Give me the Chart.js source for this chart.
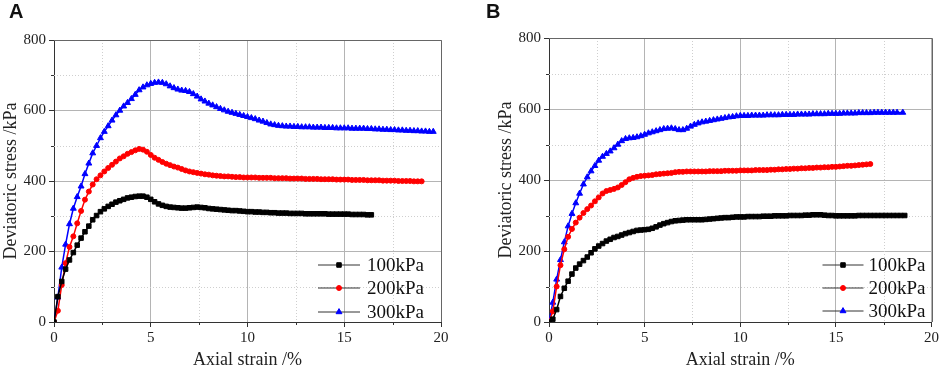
<!DOCTYPE html>
<html>
<head>
<meta charset="utf-8">
<script src="https://cdn.jsdelivr.net/npm/chart.js@4.4.1/dist/chart.umd.min.js"></script>
<style>
  body { margin: 0; background: #fff; }
  #wrap { position: relative; width: 941px; height: 372px; overflow: hidden; }
  canvas { position: absolute; top: 0; }
  #chartA { left: 0; }
  #chartB { left: 470px; }
  .panel { position: absolute; top: 0; font: bold 20px "Liberation Sans", Arial, sans-serif; color: #111; }
</style>
</head>
<body>
<div id="wrap">
  <canvas id="chartA" width="470" height="372"></canvas>
  <canvas id="chartB" width="471" height="372"></canvas>
  <div class="panel" style="left:9px">A</div>
  <div class="panel" style="left:486px">B</div>
</div>
<script>
// strain steps (%) where the curves were read
const strainSteps = [0,0.2,0.4,0.6,0.8,1,1.2,1.4,1.6,1.8,2,2.2,2.4,2.6,2.8,3,3.2,3.4,3.6,3.8,4,4.2,4.4,4.6,4.8,5,5.2,5.4,5.6,5.8,6,
  6.2,6.4,6.6,6.8,7,7.2,7.4,7.6,7.8,8,8.2,8.4,8.6,8.8,9,9.2,9.4,9.6,9.8,10,10.2,10.4,10.6,10.8,11,11.2,11.4,11.6,11.8,12,
  12.2,12.4,12.6,12.8,13,13.2,13.4,13.6,13.8,14,14.2,14.4,14.6,14.8,15,15.2,15.4,15.6,15.8,16,16.2,16.4,16.6,16.8,17,
  17.2,17.4,17.6,17.8,18,18.2,18.4,18.6,18.8,19,19.2,19.4,19.6];

const labels = ['100kPa', '200kPa', '300kPa'];

// Panel A - deviatoric stress (kPa); last value sits at endXxx
const stressA100 = [0,72,115,150,176,197,218,238,256,272,290,302,313,321,328,334,340,344,348,352,354,356,357,357,354,348,341,335,331,328,326,
  325,324,323,323,324,325,326,325,324,322,321,320,319,318,317,316,316,315,314,313,313,312,312,311,311,310,310,309,309,309,
  308,308,308,308,307,307,307,307,307,307,306,306,306,306,306,306,305,305,305,305,304,304];
const endA100 = 16.4;
const stressA200 = [0,32,105,167,213,243,280,315,347,370,390,405,416,427,437,446,455,464,470,477,482,487,491,489,483,474,466,460,454,449,445,
  441,438,434,430,427,425,423,421,419,418,416,415,414,413,413,412,411,411,410,410,410,410,409,409,409,409,408,408,408,408,
  407,407,407,407,406,406,406,406,405,405,405,405,404,404,404,404,403,403,403,403,402,402,402,402,401,
  401,401,401,400,400,400,400,399,399,399];
const endA200 = 19.0;
const stressA300 = [0,70,155,220,278,322,355,385,420,450,479,500,522,540,556,572,587,600,612,622,633,645,658,666,672,676,679,680,679,675,669,
  664,660,657,656,653,647,640,632,626,620,615,610,605,601,597,594,591,588,585,582,579,576,572,569,565,561,559,557,556,555,
  555,554,554,553,553,553,552,552,552,551,551,551,550,550,550,550,549,549,549,549,548,548,547,547,546,
  546,545,545,544,544,543,543,542,542,541,541,540,540];
const endA300 = 19.6;

// Panel B - deviatoric stress (kPa)
const stressB100 = [0,8,35,72,95,115,135,152,163,173,183,195,206,214,221,228,233,238,241,245,249,252,255,258,259,260,261,264,268,273,277,
  280,283,285,286,287,288,288,288,288,288,289,290,291,292,293,294,294,295,296,296,296,297,297,297,297,298,298,298,299,299,
  299,299,300,300,300,300,301,301,302,302,302,301,300,300,299,299,299,299,299,299,300,300,300,300,300,
  300,300,300,300,300,300,300,300];
const endB100 = 18.6;
const stressB200 = [0,30,100,160,205,240,262,280,294,307,318,328,340,351,362,369,372,375,379,386,394,402,406,409,411,412,413,414,416,417,418,
  419,420,422,423,423,424,424,424,424,424,424,425,425,425,425,426,426,426,426,427,427,427,427,428,428,428,428,429,429,430,
  430,431,431,432,432,433,433,434,434,435,435,436,436,437,437,438,439,440,440,441,442,443,444,445];
const endB200 = 16.8;
const stressB300 = [0,55,120,175,225,270,305,335,362,388,408,425,440,455,466,474,481,490,500,510,516,518,519,521,524,528,532,535,538,541,544,
  545,546,544,541,541,545,551,556,560,563,565,567,569,571,573,575,577,578,580,581,581,581,582,582,582,582,583,583,583,583,
  584,584,584,584,585,585,585,585,586,586,586,586,587,587,587,587,588,588,588,588,589,589,589,589,590,
  590,590,590,590,590,590,590];
const endB300 = 18.5;

const SERIF = '"Liberation Serif", "Times New Roman", serif';
const minorX = [2.5, 7.5, 12.5, 17.5];
const minorY = [100, 300, 500, 700];

function toPoints(stress, endStrain) {
  const xs = strainSteps.slice(0, stress.length - 1).concat([endStrain]);
  return stress.map((v, i) => ({ x: xs[i], y: v }));
}

const styles = [
  { color: '#000000', pointStyle: 'rect', radius: 3.2 },
  { color: '#ff0000', pointStyle: 'circle', radius: 2.5 },
  { color: '#0000ff', pointStyle: 'triangle', radius: 3.4 }
];

// dotted minor grid, minor ticks and the frame
const minorGrid = {
  id: 'minorGrid',
  beforeDatasetsDraw(chart) {
    const { ctx, chartArea: a, scales: { x, y } } = chart;
    ctx.save();
    ctx.lineWidth = 1;
    ctx.strokeStyle = '#cfcfcf';
    ctx.setLineDash([1, 2]);
    minorX.forEach(v => {
      const p = Math.round(x.getPixelForValue(v)) + 0.5;
      ctx.beginPath(); ctx.moveTo(p, a.top); ctx.lineTo(p, a.bottom); ctx.stroke();
    });
    minorY.forEach(v => {
      const p = Math.round(y.getPixelForValue(v)) + 0.5;
      ctx.beginPath(); ctx.moveTo(a.left, p); ctx.lineTo(a.right, p); ctx.stroke();
    });
    ctx.setLineDash([]);
    ctx.strokeStyle = '#333';
    minorX.forEach(v => {
      const p = Math.round(x.getPixelForValue(v)) + 0.5;
      ctx.beginPath(); ctx.moveTo(p, a.bottom); ctx.lineTo(p, a.bottom + 3); ctx.stroke();
    });
    minorY.forEach(v => {
      const p = Math.round(y.getPixelForValue(v)) + 0.5;
      ctx.beginPath(); ctx.moveTo(a.left - 3, p); ctx.lineTo(a.left, p); ctx.stroke();
    });
    // top and right frame
    ctx.strokeStyle = '#666';
    ctx.beginPath();
    ctx.moveTo(Math.round(a.left), Math.round(a.top) + 0.5);
    ctx.lineTo(Math.round(a.right) + 0.5, Math.round(a.top) + 0.5);
    ctx.lineTo(Math.round(a.right) + 0.5, Math.round(a.bottom));
    ctx.stroke();
    ctx.restore();
  }
};

// legend in the lower right corner: line with marker, then text
const curveLegend = {
  id: 'curveLegend',
  afterDatasetsDraw(chart, args, opts) {
    const { ctx, chartArea: a } = chart;
    ctx.save();
    ctx.font = '19px ' + SERIF;
    ctx.textBaseline = 'middle';
    chart.data.datasets.forEach((ds, i) => {
      const yy = a.bottom - opts.rows[i];
      const x0 = a.right - opts.lineStart, x1 = x0 + opts.lineLen;
      ctx.strokeStyle = '#333';
      ctx.lineWidth = 1;
      ctx.beginPath(); ctx.moveTo(x0, yy); ctx.lineTo(x1, yy); ctx.stroke();
      ctx.fillStyle = ds.backgroundColor;
      ctx.strokeStyle = ds.borderColor;
      Chart.helpers.drawPoint(ctx, { pointStyle: ds.pointStyle, radius: ds.pointRadius, borderWidth: 1, rotation: 0 }, (x0 + x1) / 2, yy);
      ctx.fillStyle = '#111';
      ctx.fillText(ds.label, a.right - opts.textStart, yy + 1);
    });
    ctx.restore();
  }
};

function makeChart(id, series, lay) {
  const datasets = series.map((pts, i) => ({
    label: labels[i],
    data: pts,
    showLine: true,
    borderColor: styles[i].color,
    backgroundColor: styles[i].color,
    borderWidth: 1.5,
    pointStyle: styles[i].pointStyle,
    pointRadius: styles[i].radius,
    pointBorderWidth: 1,
    tension: 0
  }));
  return new Chart(document.getElementById(id), {
    type: 'scatter',
    data: { datasets: datasets },
    options: {
      responsive: false,
      animation: false,
      layout: { padding: lay.padding },
      plugins: {
        legend: { display: false },
        tooltip: { enabled: false },
        curveLegend: lay.legend
      },
      scales: {
        x: {
          type: 'linear', min: 0, max: 20,
          ticks: { stepSize: 5, color: '#222', font: { family: SERIF, size: 15 }, padding: 2, maxRotation: 0 },
          grid: { color: '#b4b4b4', tickColor: '#333', tickLength: 5 },
          border: { color: '#333' },
          title: { display: true, text: 'Axial strain /%', color: '#222', font: { family: SERIF, size: 18 }, padding: { top: 0, bottom: 1 } },
          afterFit(s) { s.height = 50; }
        },
        y: {
          type: 'linear', min: 0, max: 800,
          ticks: { stepSize: 200, color: '#222', font: { family: SERIF, size: 15 }, padding: 3 },
          grid: { color: '#b4b4b4', tickColor: '#333', tickLength: 5 },
          border: { color: '#333' },
          title: { display: true, text: 'Deviatoric stress /kPa', color: '#222', font: { family: SERIF, size: 18 }, padding: { top: 0, bottom: 0 } },
          afterFit(s) { s.width = 54; }
        }
      }
    },
    plugins: [minorGrid, curveLegend]
  });
}

makeChart('chartA', [
  toPoints(stressA100, endA100),
  toPoints(stressA200, endA200),
  toPoints(stressA300, endA300)
], {
  padding: { left: 0, top: 40, right: 29, bottom: 0 },
  legend: { rows: [57, 34, 10], lineStart: 123, lineLen: 42, textStart: 74 }
});

makeChart('chartB', [
  toPoints(stressB100, endB100),
  toPoints(stressB200, endB200),
  toPoints(stressB300, endB300)
], {
  padding: { left: 25, top: 38, right: 9, bottom: 0 },
  legend: { rows: [57, 34, 11], lineStart: 109, lineLen: 41, textStart: 63 }
});
</script>
</body>
</html>
